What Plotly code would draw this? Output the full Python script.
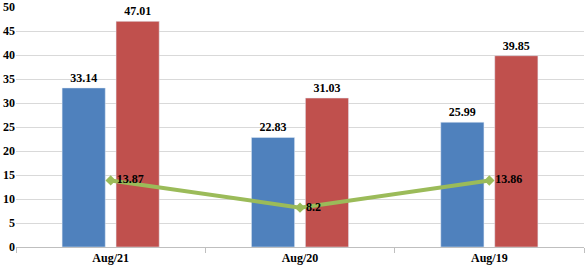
import plotly.graph_objects as go

categories = ["Aug/21", "Aug/20", "Aug/19"]
series_blue = [33.14, 22.83, 25.99]
series_red = [47.01, 31.03, 39.85]
series_line = [13.87, 8.2, 13.86]
y_ticks = list(range(0, 51, 5))

bold_font = dict(family="Liberation Serif", size=12, color="#000000", weight="bold")

fig = go.Figure()
fig.add_trace(go.Bar(
    x=categories, y=series_blue, marker_color="#4F81BD",
    text=[f"{v:g}" for v in series_blue], textposition="outside",
    textfont=bold_font, cliponaxis=False, name="A",
))
fig.add_trace(go.Bar(
    x=categories, y=series_red, marker_color="#C0504D",
    text=[f"{v:g}" for v in series_red], textposition="outside",
    textfont=bold_font, cliponaxis=False, name="B",
))
fig.add_trace(go.Scatter(
    x=categories, y=series_line, mode="lines+markers+text",
    line=dict(color="#9BBB59", width=4),
    marker=dict(color="#9BBB59", size=8, symbol="diamond"),
    text=[f"{v:g}" for v in series_line], textposition="middle right",
    textfont=bold_font, cliponaxis=False, name="C",
))

fig.update_layout(
    width=585, height=270,
    margin=dict(l=16, r=1, t=7, b=23),
    paper_bgcolor="white", plot_bgcolor="white",
    showlegend=False,
    barmode="group", bargap=0.43, bargroupgap=0.2,
    font=bold_font,
)
fig.update_xaxes(
    showgrid=False, showline=True, linecolor="#BFBFBF", linewidth=1,
    ticks="outside", tickson="boundaries", ticklen=5, tickcolor="#BFBFBF",
    tickfont=bold_font, automargin=False,
)
fig.update_yaxes(
    range=[0, 50], tickvals=y_ticks, showgrid=True, gridcolor="#D9D9D9",
    gridwidth=1, zeroline=False, showline=False, ticks="",
    tickfont=bold_font, automargin=False,
)
fig.write_html("out.html")
